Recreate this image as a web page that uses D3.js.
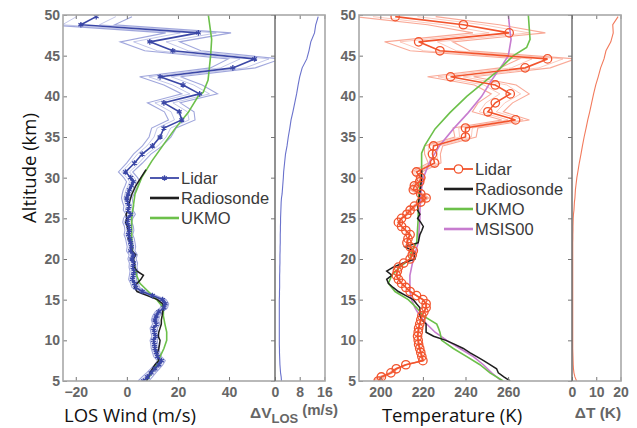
<!DOCTYPE html>
<html>
<head>
<meta charset="utf-8">
<script src="https://cdn.jsdelivr.net/npm/d3@7"></script>
<style>
  html, body { margin: 0; padding: 0; background: #fff; }
  svg { display: block; }
</style>
</head>
<body>
<svg id="chart" width="637" height="428"></svg>
<script>
// ---------------- DATA ----------------
const lidarAlt = [49.8, 48.8, 47.8, 46.7, 45.6, 44.6, 43.5, 42.4, 41.4, 40.3, 39.2, 38.1, 37.1, 36.1, 35.0, 33.9, 32.9, 31.8, 30.7,
  30.0, 29.5, 29.0, 28.5, 28.0, 27.5, 27.0, 26.5, 26.0, 25.5, 25.0, 24.5, 24.0, 23.5, 23.0, 22.5, 22.0, 21.5, 21.0, 20.5, 20.0,
  19.5, 19.0, 18.5, 18.0, 17.5, 17.0, 16.5, 16.0, 15.5, 15.0, 14.5, 14.0, 13.5, 13.0, 12.5, 12.0, 11.5, 11.0, 10.5, 10.0,
  9.5, 9.0, 8.5, 8.0, 7.5, 7.0, 6.5, 6.0, 5.5, 5.0];
const lidarWind = [-12, -18, 28, 9, 18, 50, 41.5, 13, 22, 28.5, 14.5, 20.5, 21.5, 14.5, 13, 10, 6, 3, -0.5,
  1.5, 2.5, 1.8, 1.0, 0.5, 0.0, 0.3, 0.8, 0.5, 1.5, 0.5, 0.2, 0.8, 1.0, 0.6, 1.2, 1.5, 1.8, 1.5, 2.5, 2.0,
  2.6, 2.4, 2.8, 2.5, 2.2, 3.0, 3.5, 6.0, 10.0, 14.0, 15.0, 14.5, 12.5, 11.5, 11.0, 11.5, 10.5, 10.8, 11.2, 10.5,
  10.8, 11.0, 11.5, 12.0, 13.5, 12.5, 11.0, 9.5, 8.0, 6.5];
const windErr = [14, 13.2, 12.8, 11.6, 11, 10.3, 8.8, 8, 7.5, 7, 6.4, 5.8, 5.2, 4.8, 4.3, 3.9, 3.4, 3.1, 2.8,
  2.7, 2.6, 2.5, 2.4, 2.3, 2.1, 2.0, 1.95, 1.9, 1.85, 1.8, 1.8, 1.75, 1.75, 1.7, 1.7, 1.7, 1.65, 1.65, 1.6, 1.6,
  1.6, 1.55, 1.55, 1.5, 1.5, 1.5, 1.5, 1.45, 1.45, 1.4, 1.4, 1.4, 1.4, 1.4, 1.4, 1.4, 1.4, 1.4, 1.4, 1.4,
  1.4, 1.45, 1.45, 1.5, 1.55, 1.6, 1.7, 1.8, 2.0, 2.1];
const lidarTemp = [207, 239, 260.5, 218, 228, 278.5, 268, 233, 254, 261, 254, 250.5, 263.5, 240, 240, 225, 224.5, 225.5, 217,
  219, 218.5, 216, 215.5, 219, 221.5, 219, 216, 214, 212.5, 210, 208.5, 210, 212, 214, 213, 212.5, 214, 215.5, 215, 214,
  211, 208.5, 208, 207.5, 208.5, 210, 212, 214, 217, 220, 221.5, 221.5, 220.5, 219.5, 219, 218.5, 218, 217.8, 217.5, 217.8,
  218, 218.5, 219, 219.5, 220, 212, 207.5, 205, 200.5, 199];
const tempErr = [19, 16.8, 17, 16, 14, 13.2, 11.8, 10.8, 9.8, 8.9, 8.1, 7.3, 6.5, 5.8, 5.0, 4.3, 3.7, 3.0, 2.4,
  2.0, 1.8, 1.6, 1.4, 1.3, 1.2, 1.0, 0.9, 0.8, 0.6, 0.5, 0.45, 0.4, 0.4, 0.35, 0.35, 0.3, 0.3, 0.3, 0.3, 0.3,
  0.3, 0.3, 0.3, 0.3, 0.3, 0.3, 0.3, 0.3, 0.3, 0.3, 0.3, 0.3, 0.3, 0.3, 0.3, 0.3, 0.3, 0.3, 0.3, 0.3,
  0.3, 0.3, 0.35, 0.4, 0.45, 0.5, 0.6, 0.8, 1.2, 1.9];

const sondeWindAlt = [5, 5.5, 6, 6.5, 7, 7.5, 8, 8.5, 9, 9.5, 10, 10.5, 11, 11.5, 12, 12.5, 13, 13.5, 14, 14.5, 15, 15.5, 16, 16.5,
  17, 17.5, 18, 18.5, 19, 19.5, 20, 20.5, 21, 21.5, 22, 22.5, 23, 23.5, 24, 24.5, 25, 25.5, 26, 27, 28, 29, 30, 31];
const sondeWind = [7.7, 8.5, 9.0, 10, 11, 12.5, 12, 12, 12.5, 12.8, 13, 12.3, 12.5, 13, 13.5, 13.5, 13.8, 14, 14.5, 14, 12, 8, 4, 3,
  4, 5.5, 6.5, 4, 3, 3, 2.5, 3.5, 2, 1.8, 1.5, 0.5, 1, 0.5, 0.2, -0.5, 0, -0.3, 0.5, 1, 2, 3.5, 5.5, 7.5];

const ukmoWindAlt = [5, 6, 7, 8, 9, 10, 11, 12, 13, 14, 15, 16, 17, 18, 20, 22, 25, 26, 28, 30, 32, 34, 36, 38, 40, 40.5, 42, 45, 47, 50];
const ukmoWind = [7.7, 9.7, 11.7, 13, 14.5, 15.6, 15.6, 14.9, 14.3, 14.3, 11.7, 8.4, 5.1, 3.8, 2.5, 1.9, 1.9, 2.3, 3.2, 5.8, 9.7, 14.2, 18.8, 24, 27.9, 29.9, 31.8, 32.8, 33.2, 31.9];

const sondeTempAlt = [5, 5.5, 6, 6.5, 7, 7.5, 8, 8.5, 9, 9.5, 10, 10.5, 11, 11.5, 12, 12.5, 13, 13.5, 14, 14.5, 15, 15.5, 16, 16.5,
  17, 17.5, 18, 18.5, 19, 19.5, 20, 20.5, 21, 21.5, 22, 22.5, 23, 23.5, 24, 24.5, 25, 25.5, 26, 27, 28, 29, 30, 31];
const sondeTemp = [261, 258, 255.4, 254.6, 251.5, 248.5, 245.3, 242, 239, 235, 230.8, 225, 221.5, 221.5, 221.5, 219.5, 218.6, 218.6, 218.6, 217, 215.5, 212, 208.5, 206,
  203.8, 203, 205.4, 203, 206.1, 210.8, 216.3, 216, 215.5, 211.6, 217.8, 218.2, 218.6, 219.5, 220.2, 219, 217.5, 218.6, 217.5, 218, 218.5, 219, 219.4, 219.4];

const ukmoTempAlt = [5, 6, 7, 8, 9, 10, 11, 11.5, 12, 13, 14, 15, 16, 17, 18, 19, 20, 21, 22, 25, 27, 29, 31, 33, 34, 36, 38, 40, 41, 43, 45, 46, 47, 50];
const ukmoTemp = [257.7, 251.5, 246.8, 240.6, 234.3, 228.8, 228, 227.3, 226.5, 220.2, 217.1, 213.1, 206.9, 203.8, 205.4, 209.2, 213.9, 214.7, 217.1, 217.8, 217.8, 218.6, 219.4, 219.4, 221, 225.7, 232.7, 240.6, 245.3, 254.6, 262.5, 268.7, 270.3, 269.5];

const msisAlt = [5, 6, 7, 8, 9, 10, 11, 12, 13, 14, 15, 16, 18, 19, 20, 22, 25, 26, 28, 30, 32, 34, 36, 38, 40, 42, 44, 45, 47, 48, 50];
const msisTemp = [257, 252.3, 248.4, 243.7, 237.4, 231.2, 225.7, 221.8, 218.6, 216.3, 214.7, 213.9, 213.9, 214.7, 215.5, 217.8, 218.6, 218.6, 219, 220.2, 223.3, 228, 234.3, 241.3, 247.6, 252.3, 257.7, 260.1, 261.4, 260.9, 260.1];

const altTicks = [5, 10, 15, 20, 25, 30, 35, 40, 45, 50];
const windTicks = [-20, 0, 20, 40];
const dvTicks = [0, 8, 16];
const tempTicks = [200, 220, 240, 260];
const dtTicks = [0, 10, 20];
const windLegend = ["Lidar", "Radiosonde", "UKMO"];
const tempLegend = ["Lidar", "Radiosonde", "UKMO", "MSIS00"];

// ---------------- COLOURS ----------------
const C = {
  blue: "#3b47a6", blueLight: "#8f96d6", blueDV: "#6a72cc",
  red: "#f2542d", redLight: "#f89a85", redDT: "#f27a5c",
  black: "#1e1e1e", green: "#6cc04a", purple: "#c77ccf",
  frame: "#a8a8a8", frameDark: "#6e6e6e", tick: "#777", tickText: "#666"
};

// ---------------- SCALES ----------------
const svg = d3.select("#chart");
const y = d3.scaleLinear([5, 50], [381, 15]);
const xW = d3.scaleLinear([-25, 58], [63, 275]);
const xDV = d3.scaleLinear([0, 16.2], [275, 325]);
const xT = d3.scaleLinear([190, 290], [359, 572]);
const xDT = d3.scaleLinear([0, 20.2], [572, 621]);

const defs = svg.append("defs");
function clip(id, x) {
  const r = x.range();
  defs.append("clipPath").attr("id", id).append("rect")
    .attr("x", r[0]).attr("y", y(50)).attr("width", r[1] - r[0]).attr("height", y(5) - y(50));
  return "url(#" + id + ")";
}

function lineGen(x) {
  return d3.line().x(d => x(d[0])).y(d => y(d[1]));
}
const zip = (a, v) => a.map((h, i) => [v[i], h]);

function tickStyle(g) {
  g.select(".domain").remove();
  g.selectAll(".tick line").attr("stroke", C.tick).attr("stroke-width", 1);
  g.selectAll(".tick text")
    .attr("fill", C.tickText)
    .attr("font-family", "'Liberation Sans', Arial, sans-serif")
    .attr("font-weight", "bold")
    .attr("font-size", 14);
}

function panel(x, xTicks, opts) {
  const [x0, x1] = x.range();
  const g = svg.append("g");
  g.append("g").attr("transform", `translate(0,${y(5)})`)
    .call(d3.axisBottom(x).tickValues(xTicks).tickSize(-4).tickPadding(6).tickFormat(d => String(d).replace("-", "\u2212")))
    .call(tickStyle);
  g.append("g").attr("transform", `translate(0,${y(50)})`)
    .call(d3.axisTop(x).tickValues(xTicks).tickSize(-4).tickFormat(""))
    .call(tickStyle);
  if (opts.yLeft) {
    g.append("g").attr("transform", `translate(${x0},0)`)
      .call(d3.axisLeft(y).tickValues(altTicks).tickSize(-4).tickPadding(3))
      .call(tickStyle);
    g.append("g").attr("transform", `translate(${x1},0)`)
      .call(d3.axisRight(y).tickValues(altTicks).tickSize(-4).tickFormat(""))
      .call(tickStyle);
  }
  return g;
}

// ---------------- WIND PANEL ----------------
const gW = svg.append("g").attr("clip-path", clip("cw", xW));
const lw = lineGen(xW);
[1, -1].forEach(s => {
  gW.append("path").datum(lidarAlt.map((h, i) => [lidarWind[i] + s * windErr[i], h]))
    .attr("d", lw).attr("fill", "none").attr("stroke", C.blueLight).attr("stroke-width", 1.1).attr("opacity", 0.85);
  gW.append("path").datum(lidarAlt.map((h, i) => [lidarWind[i] + s * 0.55 * windErr[i], h]))
    .attr("d", lw).attr("fill", "none").attr("stroke", C.blueLight).attr("stroke-width", 0.9).attr("opacity", 0.6);
});
gW.append("path").datum(zip(ukmoWindAlt, ukmoWind)).attr("d", lw)
  .attr("fill", "none").attr("stroke", C.green).attr("stroke-width", 1.6);
gW.append("path").datum(zip(sondeWindAlt, sondeWind)).attr("d", lw)
  .attr("fill", "none").attr("stroke", C.black).attr("stroke-width", 1.5);
gW.append("path").datum(zip(lidarAlt, lidarWind)).attr("d", lw)
  .attr("fill", "none").attr("stroke", C.blue).attr("stroke-width", 1.6);
const star = d3.symbol().type(d3.symbolAsterisk).size(22);
gW.selectAll(".wm").data(zip(lidarAlt, lidarWind)).join("path")
  .attr("transform", d => `translate(${xW(d[0])},${y(d[1])})`)
  .attr("d", star).attr("fill", "none").attr("stroke", C.blue).attr("stroke-width", 1.3);

// ΔV panel
const gDV = svg.append("g").attr("clip-path", clip("cdv", xDV));
gDV.append("path").datum(zip(lidarAlt, windErr)).attr("d", lineGen(xDV))
  .attr("fill", "none").attr("stroke", C.blueDV).attr("stroke-width", 1.1);

// ---------------- TEMPERATURE PANEL ----------------
const gT = svg.append("g").attr("clip-path", clip("ct", xT));
const lt = lineGen(xT);
[1, -1].forEach(s => {
  gT.append("path").datum(lidarAlt.map((h, i) => [lidarTemp[i] + s * tempErr[i], h]))
    .attr("d", lt).attr("fill", "none").attr("stroke", C.redLight).attr("stroke-width", 1.1).attr("opacity", 0.85);
  gT.append("path").datum(lidarAlt.map((h, i) => [lidarTemp[i] + s * 0.55 * tempErr[i], h]))
    .attr("d", lt).attr("fill", "none").attr("stroke", C.redLight).attr("stroke-width", 0.9).attr("opacity", 0.6);
});
gT.append("path").datum(zip(msisAlt, msisTemp)).attr("d", lt)
  .attr("fill", "none").attr("stroke", C.purple).attr("stroke-width", 1.6);
gT.append("path").datum(zip(ukmoTempAlt, ukmoTemp)).attr("d", lt)
  .attr("fill", "none").attr("stroke", C.green).attr("stroke-width", 1.6);
gT.append("path").datum(zip(sondeTempAlt, sondeTemp)).attr("d", lt)
  .attr("fill", "none").attr("stroke", C.black).attr("stroke-width", 1.5);
gT.append("path").datum(zip(lidarAlt, lidarTemp)).attr("d", lt)
  .attr("fill", "none").attr("stroke", C.red).attr("stroke-width", 1.6);
gT.selectAll(".tm").data(zip(lidarAlt, lidarTemp)).join("circle")
  .attr("cx", d => xT(d[0])).attr("cy", d => y(d[1])).attr("r", 4.2)
  .attr("fill", "none").attr("stroke", C.red).attr("stroke-width", 1.3);

// ΔT panel
const gDT = svg.append("g").attr("clip-path", clip("cdt", xDT));
gDT.append("path").datum(zip(lidarAlt, tempErr)).attr("d", lineGen(xDT))
  .attr("fill", "none").attr("stroke", C.redDT).attr("stroke-width", 1.1);

// ---------------- AXES / FRAMES ----------------
panel(xW, windTicks, { yLeft: true });
panel(xDV, dvTicks, {});
panel(xT, tempTicks, { yLeft: true });
panel(xDT, dtTicks, {});

function frame(xa, xb) {
  const x0 = xa.range()[0], xm = xa.range()[1], x1 = xb.range()[1];
  const f = svg.append("g").attr("fill", "none");
  f.append("rect").attr("x", x0).attr("y", y(50)).attr("width", x1 - x0).attr("height", y(5) - y(50))
    .attr("stroke", C.frame).attr("stroke-width", 1.6);
  f.append("line").attr("x1", xm).attr("x2", xm).attr("y1", y(50)).attr("y2", y(5))
    .attr("stroke", C.frameDark).attr("stroke-width", 1.5);
}
frame(xW, xDV);
frame(xT, xDT);

// ---------------- LEGENDS ----------------
function legend(x0, y0, labels, colors, marker) {
  const g = svg.append("g");
  labels.forEach((lab, i) => {
    const yy = y0 + i * 20;
    g.append("line").attr("x1", x0).attr("x2", x0 + 29).attr("y1", yy).attr("y2", yy)
      .attr("stroke", colors[i]).attr("stroke-width", i === 0 ? 1.8 : 2.6);
    if (i === 0) marker(g, x0 + 14.5, yy);
    g.append("text").attr("x", x0 + 31).attr("y", yy + 5.5).text(lab)
      .attr("font-family", "'Liberation Sans', Arial, sans-serif").attr("font-size", 16.5)
      .attr("fill", "#3a3a3a");
  });
}
legend(150, 178, windLegend, [C.blue, C.black, C.green], (g, cx, cy) =>
  g.append("path").attr("transform", `translate(${cx},${cy})`).attr("d", star)
    .attr("fill", "none").attr("stroke", C.blue).attr("stroke-width", 1.3));
legend(444, 169, tempLegend, [C.red, C.black, C.green, C.purple], (g, cx, cy) =>
  g.append("circle").attr("cx", cx).attr("cy", cy).attr("r", 4.2)
    .attr("fill", "#fff").attr("stroke", C.red).attr("stroke-width", 1.3));

// ---------------- TITLES ----------------
const titleFont = "'Open Sans', 'Noto Sans', Arial, sans-serif";
svg.append("text").attr("transform", "translate(36,168) rotate(-90)").attr("text-anchor", "middle")
  .attr("font-family", titleFont).attr("font-size", 18.5).attr("fill", "#111").text("Altitude (km)");
svg.append("text").attr("x", 130).attr("y", 422).attr("text-anchor", "middle")
  .attr("font-family", titleFont).attr("font-size", 18.5).attr("fill", "#111").text("LOS Wind (m/s)");
svg.append("text").attr("x", 452).attr("y", 422).attr("text-anchor", "middle")
  .attr("font-family", titleFont).attr("font-size", 18.5).attr("fill", "#111").text("Temperature (K)");

const sub = svg.append("text").attr("x", 250).attr("y", 418)
  .attr("font-family", "'Liberation Sans', Arial, sans-serif").attr("font-weight", "bold")
  .attr("font-size", 15.5).attr("fill", C.tickText);
sub.append("tspan").text("\u0394V");
sub.append("tspan").attr("dy", 5).attr("font-size", 13).text("LOS");
sub.append("tspan").attr("dy", -8).attr("dx", 4).attr("font-size", 15).text("(m/s)");

svg.append("text").attr("x", 598).attr("y", 418).attr("text-anchor", "middle")
  .attr("font-family", "'Liberation Sans', Arial, sans-serif").attr("font-weight", "bold")
  .attr("font-size", 15.5).attr("fill", C.tickText).text("\u0394T (K)");
</script>
</body>
</html>
